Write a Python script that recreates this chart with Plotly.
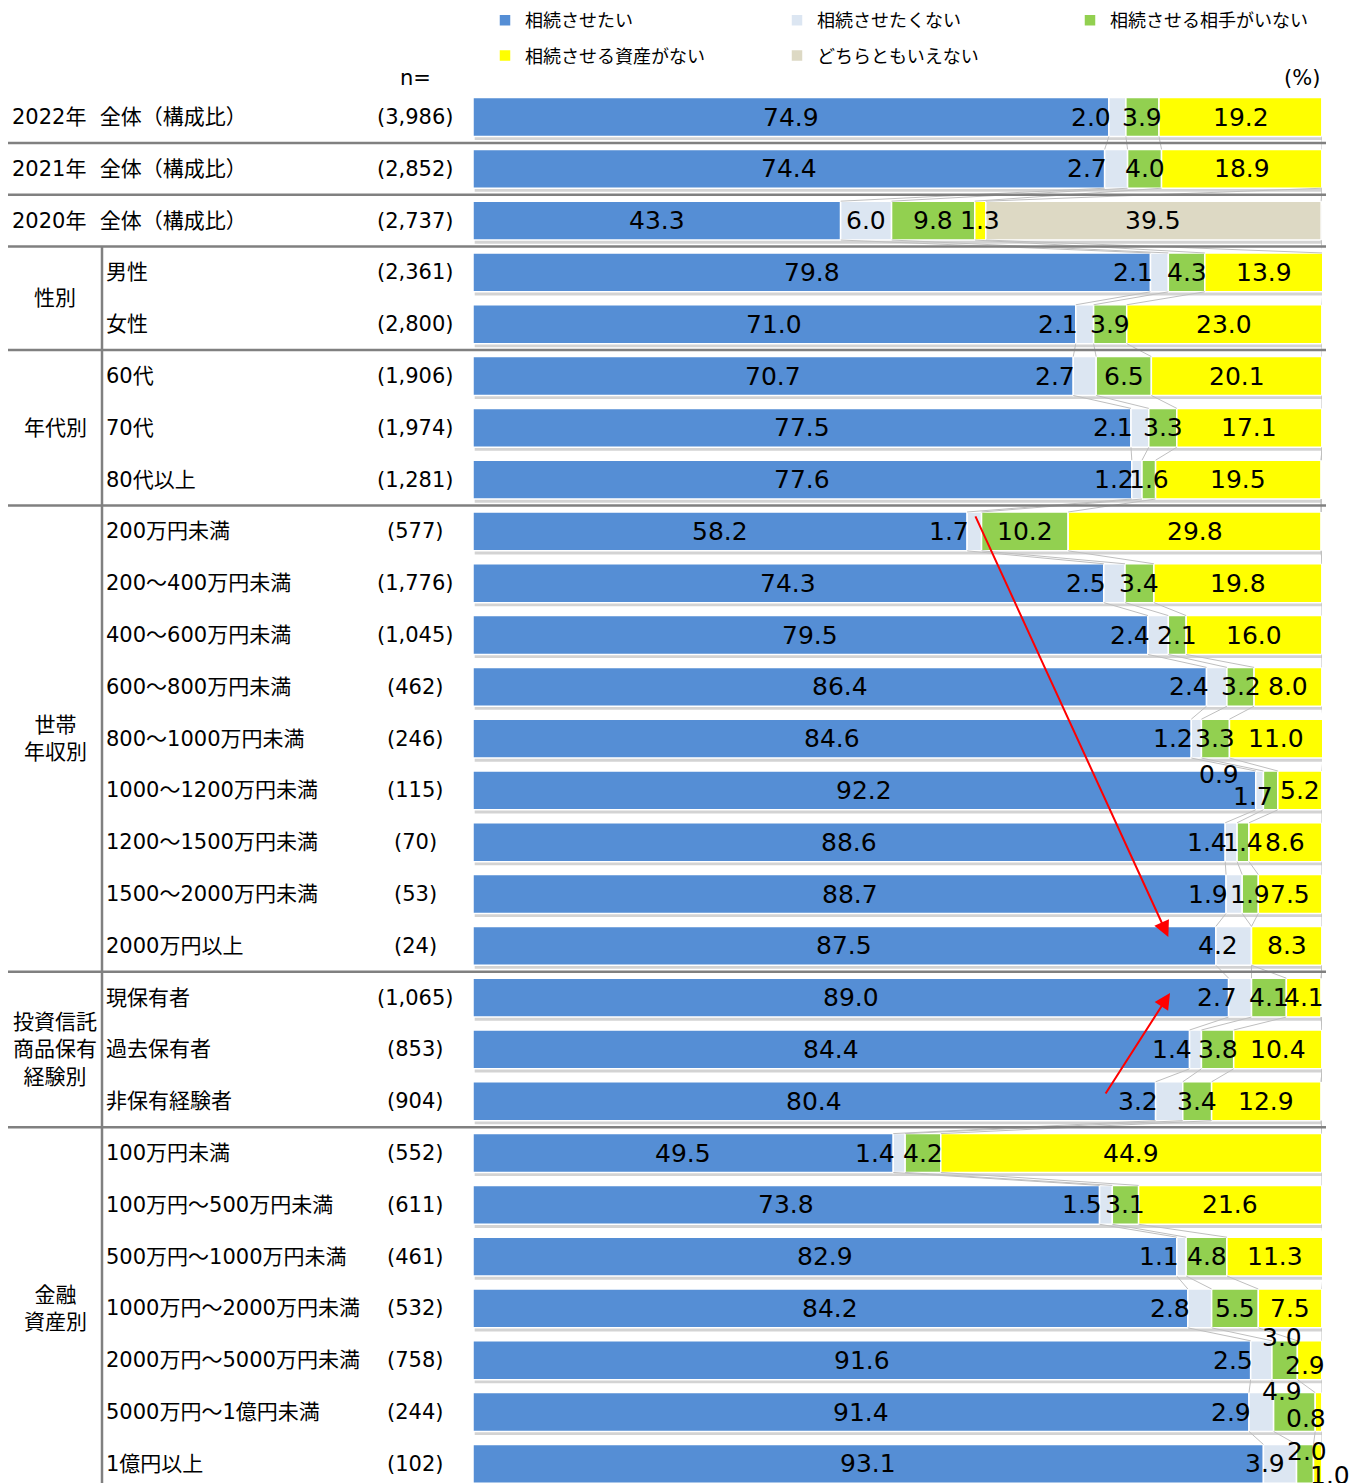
import plotly.graph_objects as go

# ---- data -------------------------------------------------------------
row_labels = [
    "2022年  全体（構成比）", "2021年  全体（構成比）", "2020年  全体（構成比）",
    "男性", "女性",
    "60代", "70代", "80代以上",
    "200万円未満", "200～400万円未満", "400～600万円未満", "600～800万円未満",
    "800～1000万円未満", "1000～1200万円未満", "1200～1500万円未満",
    "1500～2000万円未満", "2000万円以上",
    "現保有者", "過去保有者", "非保有経験者",
    "100万円未満", "100万円～500万円未満", "500万円～1000万円未満",
    "1000万円～2000万円未満", "2000万円～5000万円未満", "5000万円～1億円未満", "1億円以上",
]
n_labels = [
    "(3,986)", "(2,852)", "(2,737)", "(2,361)", "(2,800)", "(1,906)", "(1,974)",
    "(1,281)", "(577)", "(1,776)", "(1,045)", "(462)", "(246)", "(115)", "(70)",
    "(53)", "(24)", "(1,065)", "(853)", "(904)", "(552)", "(611)", "(461)",
    "(532)", "(758)", "(244)", "(102)",
]
series_names = ["相続させたい", "相続させたくない", "相続させる相手がいない",
                "相続させる資産がない", "どちらともいえない"]
want = [74.9, 74.4, 43.3, 79.8, 71.0, 70.7, 77.5, 77.6, 58.2, 74.3, 79.5, 86.4,
        84.6, 92.2, 88.6, 88.7, 87.5, 89.0, 84.4, 80.4, 49.5, 73.8, 82.9, 84.2,
        91.6, 91.4, 93.1]
not_want = [2.0, 2.7, 6.0, 2.1, 2.1, 2.7, 2.1, 1.2, 1.7, 2.5, 2.4, 2.4, 1.2, 0.9,
            1.4, 1.9, 4.2, 2.7, 1.4, 3.2, 1.4, 1.5, 1.1, 2.8, 2.5, 2.9, 3.9]
no_heir = [3.9, 4.0, 9.8, 4.3, 3.9, 6.5, 3.3, 1.6, 10.2, 3.4, 2.1, 3.2, 3.3, 1.7,
           1.4, 1.9, 0.0, 4.1, 3.8, 3.4, 4.2, 3.1, 4.8, 5.5, 3.0, 4.9, 2.0]
no_assets = [19.2, 18.9, 1.3, 13.9, 23.0, 20.1, 17.1, 19.5, 29.8, 19.8, 16.0, 8.0,
             11.0, 5.2, 8.6, 7.5, 8.3, 4.1, 10.4, 12.9, 44.9, 21.6, 11.3, 7.5,
             2.9, 0.8, 1.0]
undecided = [0.0, 0.0, 39.5] + [0.0] * 24

# group headings: (label, first row, last row)
groups = [
    ("性別", 3, 4),
    ("年代別", 5, 7),
    ("世帯<br>年収別", 8, 16),
    ("投資信託<br>商品保有<br>経験別", 17, 19),
    ("金融<br>資産別", 20, 26),
]

# ---- styling ----------------------------------------------------------
colors = ["#558ED5", "#DCE6F2", "#92D050", "#FFFF00", "#DDD9C4"]
FONT = "DejaVu Sans, Noto Sans CJK JP, sans-serif"
W, H = 1362, 1483
ML, MR, MT, MB = 473, 40, 91, 0
PLOT_W = W - ML - MR
PLOT_H = H - MT - MB
BAR_W = 0.75

# legend columns: which legend each series goes to, and column left edges (px)
legend_of = ["legend", "legend2", "legend3", "legend", "legend2"]
legend_cols = {"legend": 485, "legend2": 777, "legend3": 1070}

# hand-placed offsets (px) for labels on narrow segments
label_nudge = {
    (13, 1): (-19, -16), (13, 2): (-18, 6),
    (16, 1): (20, 0), (17, 1): (6, 0),
    (24, 2): (-3, -23), (24, 3): (-5, 5),
    (25, 2): (-12, -21), (25, 3): (-13, 6),
    (26, 1): (20, 0), (26, 2): (2, -12), (26, 3): (12, 12),
}


def xp(px):
    """pixel x -> paper x"""
    return (px - ML) / PLOT_W


def yp(py):
    """pixel y -> paper y"""
    return 1 - (py - MT) / PLOT_H


series = [want, not_want, no_heir, no_assets, undecided]
nrows = len(row_labels)
rows = list(range(nrows))

# cumulative starts for each segment
bases = []
for i in range(nrows):
    acc, b = 0.0, []
    for s in series:
        b.append(acc)
        acc += s[i]
    bases.append(b + [acc])

fig = go.Figure()

# soft drop shadow behind every bar
fig.add_trace(go.Bar(
    y=rows, x=[bases[i][-1] + 0.4 for i in rows], base=0.2,
    orientation="h", width=BAR_W, offset=-BAR_W / 2 + 0.07,
    marker=dict(color="#d3d3d3", line=dict(width=0)),
    showlegend=False, hoverinfo="skip",
))

# series lines joining segment boundaries of neighbouring bars
lx, ly = [], []
for i in range(nrows - 1):
    for j in range(1, len(series) + 1):
        if j < len(series) and bases[i][j] >= 99.95 and bases[i + 1][j] >= 99.95:
            continue
        lx += [bases[i][j], bases[i + 1][j], None]
        ly += [i + BAR_W / 2, i + 1 - BAR_W / 2, None]
fig.add_trace(go.Scatter(
    x=lx, y=ly, mode="lines", line=dict(color="#bfbfbf", width=1),
    showlegend=False, hoverinfo="skip",
))

# stacked segments
for j, (name, vals) in enumerate(zip(series_names, series)):
    fig.add_trace(go.Bar(
        y=rows, x=vals, base=[bases[i][j] for i in rows], name=name,
        orientation="h", width=BAR_W,
        marker=dict(color=colors[j], line=dict(color="white", width=1.5)),
        legend=legend_of[j], legendgroup=name,
        hovertemplate=name + ": %{x}<extra></extra>",
    ))

annotations = []

# value labels
for i in rows:
    for j, vals in enumerate(series):
        v = vals[i]
        if v <= 0:
            continue
        start = bases[i][j]
        if j == 1 and v < 5:
            x, anchor, dx = start, "right", 4
        else:
            x, anchor, dx = start + v / 2, "center", 0
        ndx, ndy = label_nudge.get((i, j), (0, 0))
        annotations.append(dict(
            x=x, y=i, xref="x", yref="y", text=f"{v:.1f}", showarrow=False,
            xanchor=anchor, yanchor="middle", xshift=dx + ndx, yshift=-ndy,
            font=dict(family=FONT, size=25, color="black"),
        ))

# row labels and sample sizes
for i in rows:
    grouped = i >= 3
    annotations.append(dict(
        x=xp(104 if grouped else 10), y=i, xref="paper", yref="y",
        text=row_labels[i], showarrow=False, xanchor="left", yanchor="middle",
        font=dict(family=FONT, size=21, color="black"),
    ))
    annotations.append(dict(
        x=xp(415), y=i, xref="paper", yref="y", text=n_labels[i],
        showarrow=False, xanchor="center", yanchor="middle",
        font=dict(family=FONT, size=21, color="black"),
    ))

# group headings
for label, r0, r1 in groups:
    annotations.append(dict(
        x=xp(55), y=(r0 + r1) / 2, xref="paper", yref="y", text=label,
        showarrow=False, xanchor="center", yanchor="middle", align="center",
        font=dict(family=FONT, size=21, color="black"),
    ))

# header texts
annotations.append(dict(x=xp(415), y=yp(78), xref="paper", yref="paper", text="n=",
                        showarrow=False, xanchor="center", yanchor="middle",
                        font=dict(family=FONT, size=21, color="black")))
annotations.append(dict(x=xp(1322), y=yp(78), xref="paper", yref="paper", text="(%)",
                        showarrow=False, xanchor="right", yanchor="middle",
                        font=dict(family=FONT, size=21, color="black")))

# red trend arrows: (tail x, tail row, head x, head row)
arrows = [(59.1, 7.68, 81.9, 15.83), (74.4, 18.88, 82.1, 16.91)]
for tx, ty, hx, hy in arrows:
    annotations.append(dict(
        x=hx, y=hy, ax=tx, ay=ty, xref="x", yref="y", axref="x", ayref="y",
        text="", showarrow=True, arrowhead=2, arrowsize=1.6, arrowwidth=2,
        arrowcolor="#FF0000",
    ))

# table rules
shapes = []
for b in [0.5, 1.5, 2.5, 4.5, 7.5, 16.5, 19.5]:
    shapes.append(dict(type="line", xref="paper", yref="y", x0=xp(8), x1=xp(1326),
                       y0=b, y1=b, line=dict(color="#808080", width=2.5)))
shapes.append(dict(type="line", xref="paper", yref="y", x0=xp(102), x1=xp(102),
                   y0=2.5, y1=nrows + 1, line=dict(color="#808080", width=2.5)))

legend_layout = {}
for key, left in legend_cols.items():
    legend_layout[key] = dict(
        orientation="v", x=xp(left), y=yp(2), xanchor="left", yanchor="top",
        font=dict(family=FONT, size=18, color="black"),
        bgcolor="rgba(0,0,0,0)", itemwidth=30, tracegroupgap=9,
    )

fig.update_layout(
    width=W, height=H,
    margin=dict(l=ML, r=MR, t=MT, b=MB, pad=0),
    barmode="overlay",
    plot_bgcolor="white", paper_bgcolor="white",
    xaxis=dict(range=[0, 100], visible=False, fixedrange=True),
    yaxis=dict(range=[nrows - 0.63, -0.502], visible=False, fixedrange=True),
    annotations=annotations,
    shapes=shapes,
    showlegend=True,
    **legend_layout,
)

fig.write_html("out.html")
